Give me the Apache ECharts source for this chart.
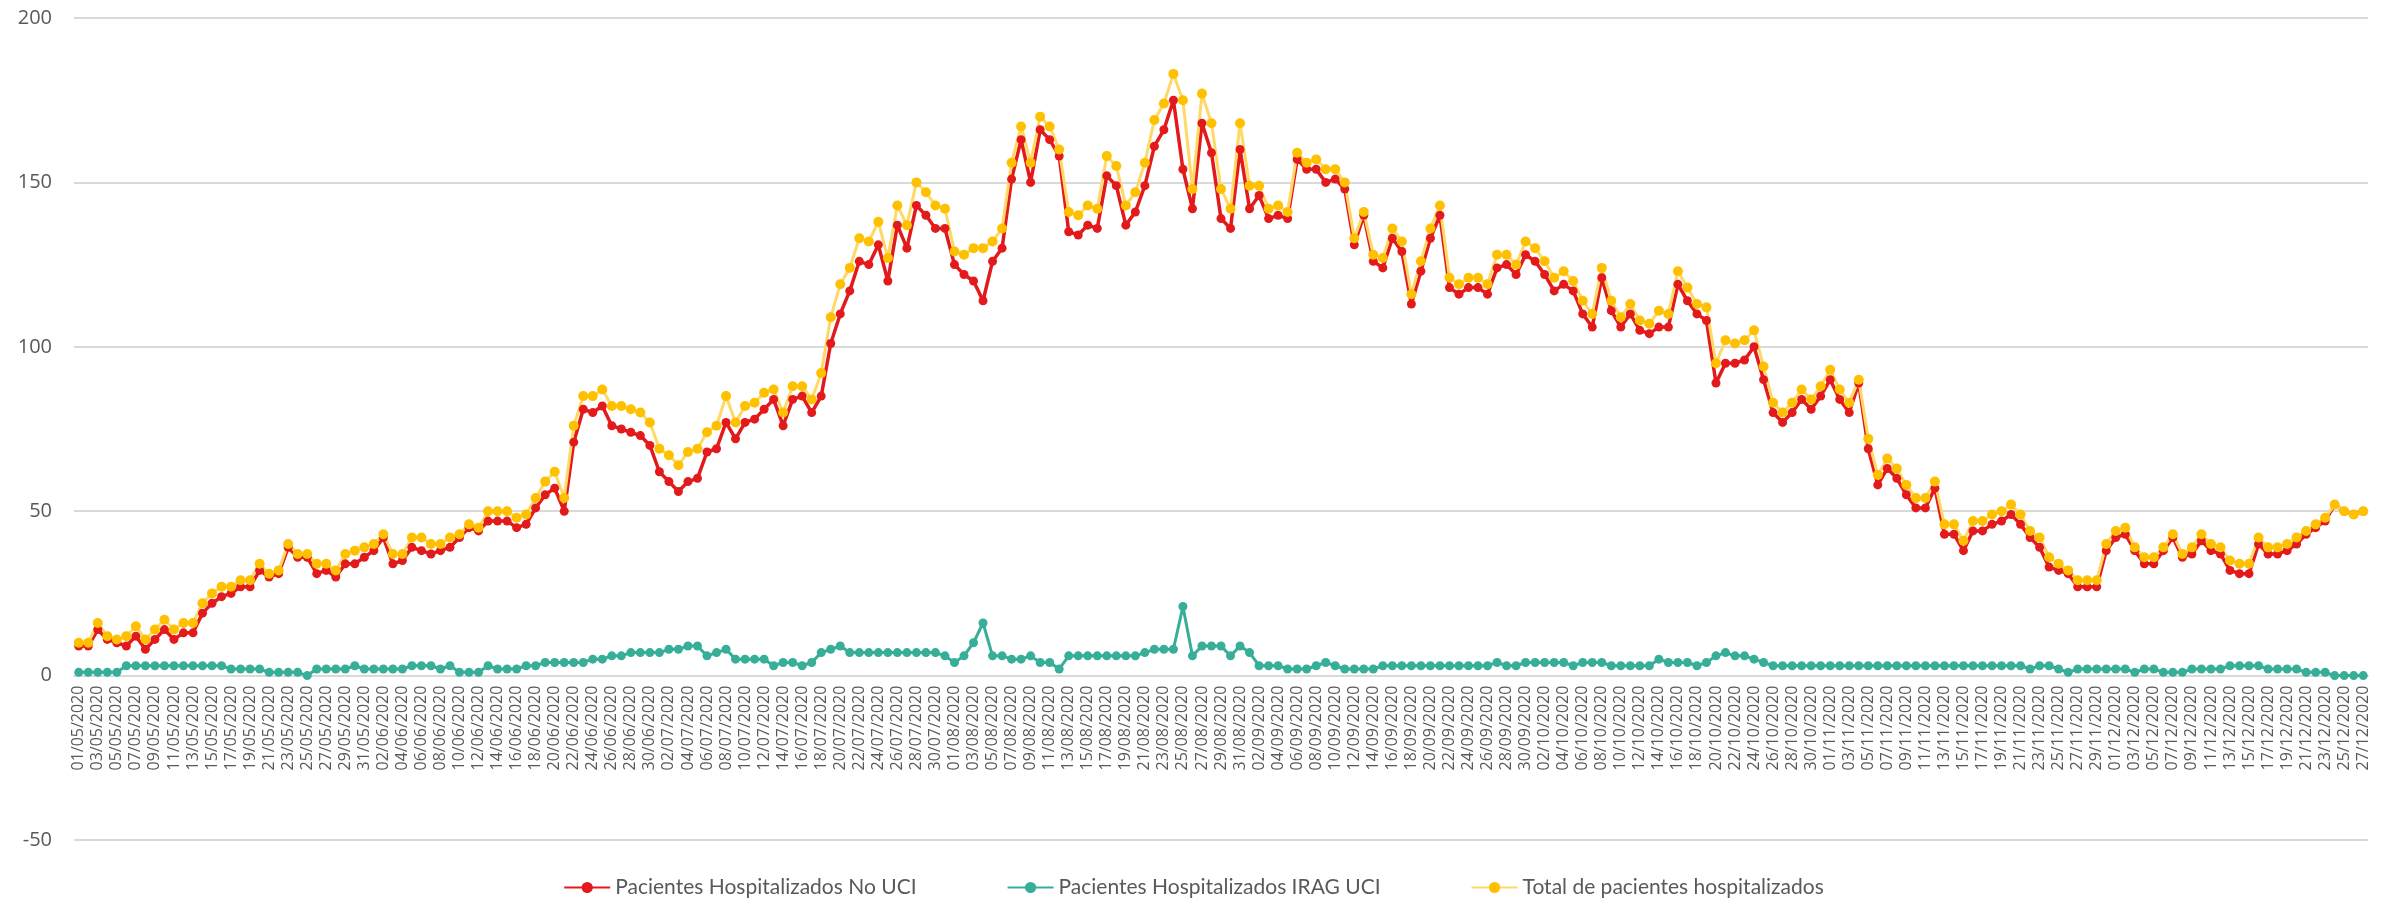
<!DOCTYPE html>
<html>
<head>
<meta charset="utf-8">
<script src="https://cdn.jsdelivr.net/npm/echarts@6/dist/echarts.min.js"></script>
<style>
  html, body { margin: 0; padding: 0; background: #fff; }
  #graph_1 { width: 2387px; height: 904px; }
</style>
</head>
<body>
<div id="graph_1"></div>
<script>
// fechas: 01/05/2020 - 27/12/2020
var monthDays = [['05', 31], ['06', 30], ['07', 31], ['08', 31], ['09', 30], ['10', 31], ['11', 30], ['12', 27]];
var dates = [];
monthDays.forEach(function (m) {
    for (var d = 1; d <= m[1]; d++) {
        dates.push((d < 10 ? '0' + d : '' + d) + '/' + m[0] + '/2020');
    }
});

var noUci = [
    9, 9, 14, 11, 10, 9, 12, 8, 11, 14,
    11, 13, 13, 19, 22, 24, 25, 27, 27, 32,
    30, 31, 39, 36, 36, 31, 32, 30, 34, 34,
    36, 38, 42, 34, 35, 39, 38, 37, 38, 39,
    42, 45, 44, 47, 47, 47, 45, 46, 51, 55,
    57, 50, 71, 81, 80, 82, 76, 75, 74, 73,
    70, 62, 59, 56, 59, 60, 68, 69, 77, 72,
    77, 78, 81, 84, 76, 84, 85, 80, 85, 101,
    110, 117, 126, 125, 131, 120, 137, 130, 143, 140,
    136, 136, 125, 122, 120, 114, 126, 130, 151, 163,
    150, 166, 163, 158, 135, 134, 137, 136, 152, 149,
    137, 141, 149, 161, 166, 175, 154, 142, 168, 159,
    139, 136, 160, 142, 146, 139, 140, 139, 157, 154,
    154, 150, 151, 148, 131, 140, 126, 124, 133, 129,
    113, 123, 133, 140, 118, 116, 118, 118, 116, 124,
    125, 122, 128, 126, 122, 117, 119, 117, 110, 106,
    121, 111, 106, 110, 105, 104, 106, 106, 119, 114,
    110, 108, 89, 95, 95, 96, 100, 90, 80, 77,
    80, 84, 81, 85, 90, 84, 80, 89, 69, 58,
    63, 60, 55, 51, 51, 57, 43, 43, 38, 44,
    44, 46, 47, 49, 46, 42, 39, 33, 32, 31,
    27, 27, 27, 38, 42, 43, 38, 34, 34, 38,
    42, 36, 37, 41, 38, 37, 32, 31, 31, 40,
    37, 37, 38, 40, 43, 45, 47, 52, 50, 49,
    50
];

var iragUci = [
    1, 1, 1, 1, 1, 3, 3, 3, 3, 3,
    3, 3, 3, 3, 3, 3, 2, 2, 2, 2,
    1, 1, 1, 1, 0, 2, 2, 2, 2, 3,
    2, 2, 2, 2, 2, 3, 3, 3, 2, 3,
    1, 1, 1, 3, 2, 2, 2, 3, 3, 4,
    4, 4, 4, 4, 5, 5, 6, 6, 7, 7,
    7, 7, 8, 8, 9, 9, 6, 7, 8, 5,
    5, 5, 5, 3, 4, 4, 3, 4, 7, 8,
    9, 7, 7, 7, 7, 7, 7, 7, 7, 7,
    7, 6, 4, 6, 10, 16, 6, 6, 5, 5,
    6, 4, 4, 2, 6, 6, 6, 6, 6, 6,
    6, 6, 7, 8, 8, 8, 21, 6, 9, 9,
    9, 6, 9, 7, 3, 3, 3, 2, 2, 2,
    3, 4, 3, 2, 2, 2, 2, 3, 3, 3,
    3, 3, 3, 3, 3, 3, 3, 3, 3, 4,
    3, 3, 4, 4, 4, 4, 4, 3, 4, 4,
    4, 3, 3, 3, 3, 3, 5, 4, 4, 4,
    3, 4, 6, 7, 6, 6, 5, 4, 3, 3,
    3, 3, 3, 3, 3, 3, 3, 3, 3, 3,
    3, 3, 3, 3, 3, 3, 3, 3, 3, 3,
    3, 3, 3, 3, 3, 2, 3, 3, 2, 1,
    2, 2, 2, 2, 2, 2, 1, 2, 2, 1,
    1, 1, 2, 2, 2, 2, 3, 3, 3, 3,
    2, 2, 2, 2, 1, 1, 1, 0, 0, 0,
    0
];

var total = [
    10, 10, 16, 12, 11, 12, 15, 11, 14, 17,
    14, 16, 16, 22, 25, 27, 27, 29, 29, 34,
    31, 32, 40, 37, 37, 34, 34, 32, 37, 38,
    39, 40, 43, 37, 37, 42, 42, 40, 40, 42,
    43, 46, 45, 50, 50, 50, 48, 49, 54, 59,
    62, 54, 76, 85, 85, 87, 82, 82, 81, 80,
    77, 69, 67, 64, 68, 69, 74, 76, 85, 77,
    82, 83, 86, 87, 80, 88, 88, 84, 92, 109,
    119, 124, 133, 132, 138, 127, 143, 137, 150, 147,
    143, 142, 129, 128, 130, 130, 132, 136, 156, 167,
    156, 170, 167, 160, 141, 140, 143, 142, 158, 155,
    143, 147, 156, 169, 174, 183, 175, 148, 177, 168,
    148, 142, 168, 149, 149, 142, 143, 141, 159, 156,
    157, 154, 154, 150, 133, 141, 128, 127, 136, 132,
    116, 126, 136, 143, 121, 119, 121, 121, 119, 128,
    128, 125, 132, 130, 126, 121, 123, 120, 114, 110,
    124, 114, 109, 113, 108, 107, 111, 110, 123, 118,
    113, 112, 95, 102, 101, 102, 105, 94, 83, 80,
    83, 87, 84, 88, 93, 87, 83, 90, 72, 61,
    66, 63, 58, 54, 54, 59, 46, 46, 41, 47,
    47, 49, 50, 52, 49, 44, 42, 36, 34, 32,
    29, 29, 29, 40, 44, 45, 39, 36, 36, 39,
    43, 37, 39, 43, 40, 39, 35, 34, 34, 42,
    39, 39, 40, 42, 44, 46, 48, 52, 50, 49,
    50
];

var seriesNames = ['Pacientes Hospitalizados No UCI', 'Pacientes Hospitalizados IRAG UCI', 'Total de pacientes hospitalizados'];
var yTicks = { min: -50, max: 200, interval: 50 };

var myChart = echarts.init(document.getElementById('graph_1'));

var fontFamily = '"Open Sans", sans-serif';
var gridTop = 18, gridBottom = 64;
var plotHeight = 904 - gridTop - gridBottom;
// el eje X cruza en y = 0
var zeroOffset = -plotHeight * (0 - yTicks.min) / (yTicks.max - yTicks.min);

option = {
    backgroundColor: '#ffffff',
    animation: false,
    textStyle: { fontFamily: fontFamily },
    grid: {
        left: 74,
        right: 19,
        top: gridTop,
        bottom: gridBottom,
        containLabel: false,
        outerBoundsMode: 'none'
    },
    legend: {
        data: seriesNames,
        left: 'center',
        bottom: 1,
        itemGap: 90,
        itemWidth: 46,
        itemHeight: 14,
        textStyle: {
            color: '#595959',
            fontSize: 21,
            fontFamily: 'Lato, sans-serif'
        }
    },
    xAxis: {
        type: 'category',
        data: dates,
        boundaryGap: true,
        offset: zeroOffset,
        axisLine: {
            onZero: false,
            lineStyle: { color: '#D9D9D9', width: 2 }
        },
        axisTick: { show: false },
        axisLabel: {
            interval: 1,
            rotate: 90,
            fontSize: 16,
            color: '#595959',
            margin: 10
        },
        splitLine: { show: false }
    },
    yAxis: {
        type: 'value',
        min: yTicks.min,
        max: yTicks.max,
        interval: yTicks.interval,
        axisLine: { show: false },
        axisTick: { show: false },
        axisLabel: {
            fontSize: 20,
            color: '#595959',
            margin: 22
        },
        splitLine: {
            lineStyle: { color: '#D9D9D9', width: 2 }
        }
    },
    series: [
        {
            name: seriesNames[0],
            type: 'line',
            data: noUci,
            symbol: 'circle',
            symbolSize: 9,
            showAllSymbol: true,
            lineStyle: { color: '#E31A1C', width: 3.5 },
            itemStyle: { color: '#E31A1C' }
        },
        {
            name: seriesNames[1],
            type: 'line',
            data: iragUci,
            symbol: 'circle',
            symbolSize: 9,
            showAllSymbol: true,
            lineStyle: { color: '#36AE98', width: 3 },
            itemStyle: { color: '#36AE98' }
        },
        {
            name: seriesNames[2],
            type: 'line',
            data: total,
            symbol: 'circle',
            symbolSize: 10,
            showAllSymbol: true,
            lineStyle: { color: '#FFD966', width: 3 },
            itemStyle: { color: '#FFC000' }
        }
    ]
};

myChart.setOption(option);
</script>
</body>
</html>
